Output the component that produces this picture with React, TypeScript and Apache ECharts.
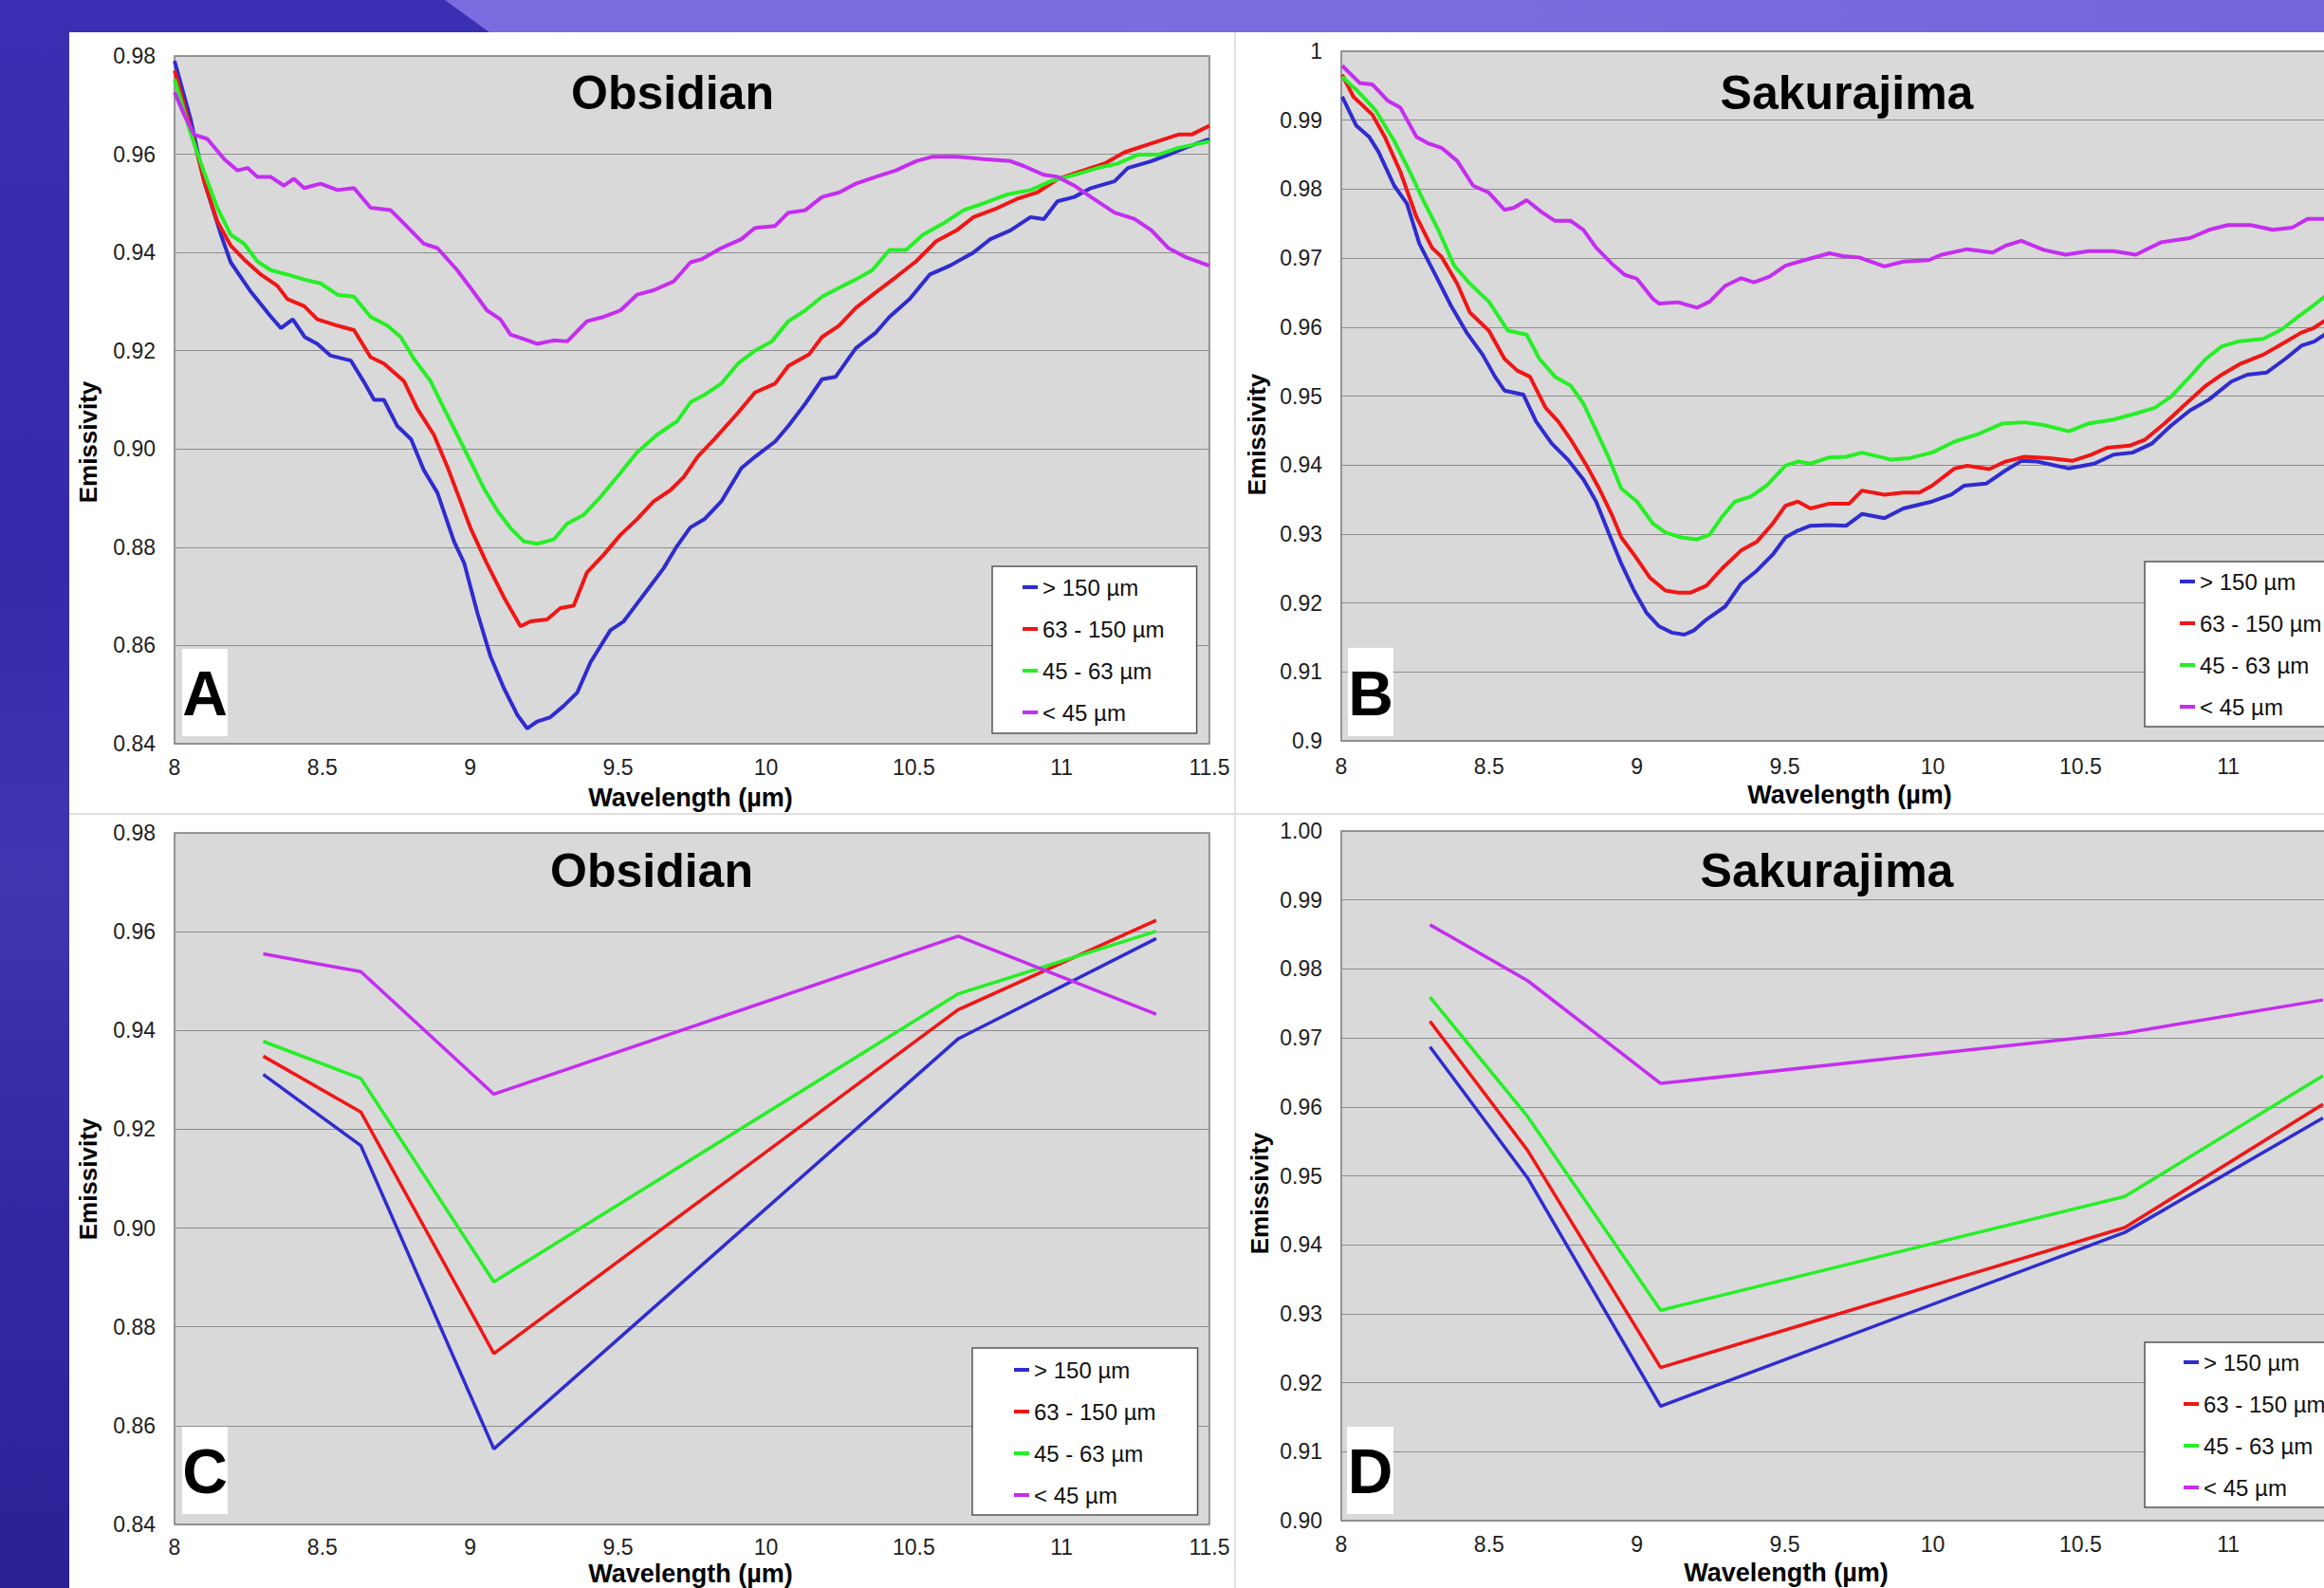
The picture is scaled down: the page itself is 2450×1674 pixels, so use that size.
import React, { useEffect, useRef } from "react";
import * as echarts from "echarts";

// ---------- DATA ----------
const SIZE_LABELS = ["> 150 µm", "63 - 150 µm", "45 - 63 µm", "< 45 µm"];
const SIZE_COLORS = ["#2f2ccf", "#f01616", "#26ef26", "#c42ef0"];
const PANEL_TITLES = ["Obsidian", "Sakurajima", "Obsidian", "Sakurajima"];
const PANEL_LETTERS = ["A", "B", "C", "D"];
const X_RANGE = { min: 8, max: 11.5, step: 0.5 };
const Y_RANGE_OBS = { min: 0.84, max: 0.98, step: 0.02 };
const Y_RANGE_SAK = { min: 0.9, max: 1.0, step: 0.01 };

// Panel A – Obsidian laboratory spectra
const obsA_gt150: [number, number][] = [
  [8.0, 0.979], [8.055, 0.967], [8.1, 0.9545], [8.157, 0.9436], [8.19, 0.938], [8.258, 0.932], [8.325, 0.927],
  [8.36, 0.9246], [8.4, 0.9264], [8.44, 0.9228], [8.483, 0.9214], [8.528, 0.919], [8.596, 0.918], [8.64, 0.9137],
  [8.675, 0.91], [8.708, 0.91], [8.753, 0.9047], [8.8, 0.902], [8.843, 0.8957], [8.889, 0.8911], [8.945, 0.8812],
  [8.98, 0.8767], [9.024, 0.8667], [9.069, 0.8577], [9.114, 0.8513], [9.159, 0.8459], [9.193, 0.8431], [9.226, 0.8445],
  [9.271, 0.8454], [9.316, 0.8477], [9.362, 0.8504], [9.407, 0.8566], [9.474, 0.8631], [9.519, 0.8649], [9.564, 0.8685],
  [9.609, 0.8721], [9.654, 0.8757], [9.699, 0.8802], [9.744, 0.884], [9.792, 0.8857], [9.849, 0.8893], [9.917, 0.8961],
  [9.963, 0.8984], [10.031, 0.9015], [10.076, 0.9047], [10.133, 0.9092], [10.19, 0.9142], [10.236, 0.9147],
  [10.304, 0.9205], [10.372, 0.9237], [10.418, 0.9269], [10.486, 0.9305], [10.554, 0.9355], [10.622, 0.9373],
  [10.702, 0.94], [10.759, 0.9427], [10.827, 0.9445], [10.895, 0.9472], [10.94, 0.9468], [10.986, 0.9504],
  [11.043, 0.9513], [11.099, 0.9531], [11.179, 0.9545], [11.224, 0.9572], [11.304, 0.9586], [11.361, 0.9599],
  [11.418, 0.9613], [11.5, 0.9631],
];
const obsA_63_150: [number, number][] = [
  [8.0, 0.977], [8.055, 0.9653], [8.1, 0.9545], [8.145, 0.9463], [8.19, 0.9414], [8.235, 0.9386], [8.292, 0.9355],
  [8.348, 0.9332], [8.382, 0.9305], [8.438, 0.9291], [8.483, 0.9264], [8.551, 0.9251], [8.607, 0.9242], [8.663, 0.9187],
  [8.708, 0.9174], [8.776, 0.9138], [8.821, 0.9082], [8.877, 0.9029], [8.922, 0.8965], [8.956, 0.8911], [9.001, 0.8839],
  [9.057, 0.8766], [9.114, 0.8698], [9.17, 0.8639], [9.204, 0.8649], [9.26, 0.8653], [9.305, 0.8676], [9.35, 0.8681],
  [9.395, 0.8749], [9.452, 0.8785], [9.508, 0.8825], [9.564, 0.8857], [9.62, 0.8893], [9.677, 0.8916], [9.722, 0.8943],
  [9.77, 0.8985], [9.826, 0.902], [9.906, 0.9074], [9.963, 0.9115], [10.031, 0.9133], [10.076, 0.9169], [10.145, 0.9192],
  [10.19, 0.9228], [10.247, 0.9251], [10.304, 0.9287], [10.372, 0.9319], [10.44, 0.935], [10.508, 0.9382],
  [10.576, 0.9423], [10.645, 0.9445], [10.702, 0.9472], [10.781, 0.949], [10.849, 0.9509], [10.917, 0.9522],
  [10.986, 0.9549], [11.054, 0.9563], [11.145, 0.9581], [11.213, 0.9604], [11.304, 0.9622], [11.395, 0.964],
  [11.44, 0.964], [11.5, 0.9658],
];
const obsA_45_63: [number, number][] = [
  [8.0, 0.9753], [8.055, 0.9642], [8.1, 0.9563], [8.145, 0.9491], [8.19, 0.9436], [8.235, 0.9418], [8.28, 0.9382],
  [8.325, 0.9364], [8.382, 0.9355], [8.438, 0.9345], [8.494, 0.9337], [8.551, 0.9314], [8.607, 0.931], [8.663, 0.9269],
  [8.72, 0.9251], [8.765, 0.9228], [8.81, 0.9183], [8.866, 0.9138], [8.911, 0.9083], [8.956, 0.9029], [9.001, 0.8975],
  [9.046, 0.892], [9.091, 0.8875], [9.136, 0.8839], [9.181, 0.8812], [9.226, 0.8807], [9.283, 0.8816], [9.328, 0.8848],
  [9.384, 0.8866], [9.44, 0.8902], [9.497, 0.8943], [9.564, 0.8993], [9.632, 0.9029], [9.699, 0.9056], [9.745, 0.9095],
  [9.792, 0.911], [9.849, 0.9133], [9.906, 0.9174], [9.963, 0.92], [10.02, 0.9219], [10.076, 0.926], [10.133, 0.9282],
  [10.19, 0.931], [10.247, 0.9328], [10.304, 0.9345], [10.36, 0.9364], [10.418, 0.9405], [10.474, 0.9405],
  [10.531, 0.9436], [10.6, 0.9459], [10.668, 0.9486], [10.736, 0.95], [10.815, 0.9518], [10.895, 0.9527],
  [10.963, 0.9545], [11.043, 0.9558], [11.122, 0.9572], [11.19, 0.9581], [11.258, 0.9599], [11.327, 0.9599],
  [11.395, 0.9613], [11.5, 0.9626],
];
const obsA_lt45: [number, number][] = [
  [8.0, 0.9726], [8.033, 0.968], [8.066, 0.964], [8.111, 0.9631], [8.168, 0.959], [8.213, 0.9567], [8.247, 0.9572],
  [8.28, 0.9554], [8.325, 0.9554], [8.37, 0.9536], [8.404, 0.955], [8.438, 0.9531], [8.494, 0.954], [8.551, 0.9527],
  [8.607, 0.9531], [8.663, 0.9491], [8.731, 0.9486], [8.776, 0.9459], [8.843, 0.9418], [8.889, 0.9409], [8.956, 0.9364],
  [9.001, 0.9328], [9.057, 0.9282], [9.102, 0.9264], [9.136, 0.9233], [9.181, 0.9224], [9.226, 0.9214], [9.283, 0.9221],
  [9.328, 0.9219], [9.395, 0.926], [9.452, 0.9269], [9.508, 0.9282], [9.564, 0.9314], [9.62, 0.9323], [9.688, 0.9341],
  [9.745, 0.938], [9.781, 0.9386], [9.849, 0.9409], [9.917, 0.9427], [9.963, 0.945], [10.031, 0.9454], [10.076, 0.9481],
  [10.133, 0.9486], [10.19, 0.9513], [10.247, 0.9522], [10.304, 0.954], [10.372, 0.9554], [10.44, 0.9567],
  [10.508, 0.9586], [10.565, 0.9595], [10.645, 0.9595], [10.736, 0.959], [10.827, 0.9586], [10.872, 0.9576],
  [10.94, 0.9558], [10.986, 0.9554], [11.043, 0.9536], [11.099, 0.9513], [11.179, 0.9481], [11.247, 0.9468],
  [11.304, 0.9445], [11.361, 0.9409], [11.418, 0.9391], [11.5, 0.9373],
];

// Panel B – Sakurajima laboratory spectra
const sakB_gt150: [number, number][] = [
  [8.003, 0.9934], [8.051, 0.9892], [8.094, 0.9876], [8.126, 0.9854], [8.179, 0.9805], [8.222, 0.9779], [8.264, 0.9721],
  [8.318, 0.9676], [8.371, 0.9631], [8.424, 0.9592], [8.478, 0.956], [8.52, 0.9528], [8.552, 0.9508], [8.616, 0.9502],
  [8.659, 0.9463], [8.712, 0.9431], [8.766, 0.9408], [8.819, 0.9379], [8.862, 0.9347], [8.904, 0.9302], [8.947, 0.9257],
  [8.99, 0.9218], [9.032, 0.9186], [9.075, 0.9166], [9.118, 0.9157], [9.16, 0.9154], [9.192, 0.916], [9.235, 0.9176],
  [9.299, 0.9195], [9.352, 0.9228], [9.406, 0.9247], [9.459, 0.927], [9.502, 0.9295], [9.544, 0.9305], [9.587, 0.9312],
  [9.651, 0.9313], [9.708, 0.9312], [9.761, 0.9329], [9.837, 0.9323], [9.901, 0.9337], [9.998, 0.9347], [10.063, 0.9357],
  [10.106, 0.937], [10.181, 0.9373], [10.246, 0.9392], [10.3, 0.9406], [10.353, 0.9405], [10.461, 0.9395],
  [10.547, 0.9402], [10.612, 0.9415], [10.676, 0.9418], [10.741, 0.9431], [10.806, 0.9457], [10.87, 0.9479],
  [10.935, 0.9495], [11.01, 0.9521], [11.064, 0.9531], [11.129, 0.9534], [11.193, 0.9554], [11.247, 0.9573],
  [11.29, 0.9579], [11.34, 0.9593],
];
const sakB_63_150: [number, number][] = [
  [8.003, 0.9966], [8.041, 0.9934], [8.105, 0.9908], [8.147, 0.9876], [8.2, 0.9825], [8.254, 0.976], [8.307, 0.9715],
  [8.339, 0.9702], [8.392, 0.9663], [8.435, 0.9621], [8.499, 0.9595], [8.552, 0.9554], [8.595, 0.9537], [8.638, 0.9528],
  [8.691, 0.9483], [8.734, 0.9463], [8.776, 0.9437], [8.83, 0.9399], [8.872, 0.9366], [8.915, 0.9328], [8.947, 0.9295],
  [8.99, 0.927], [9.043, 0.9237], [9.096, 0.9218], [9.139, 0.9215], [9.182, 0.9215], [9.235, 0.9225], [9.288, 0.925],
  [9.352, 0.9276], [9.406, 0.9289], [9.459, 0.9315], [9.502, 0.9341], [9.544, 0.9347], [9.587, 0.9337], [9.651, 0.9344],
  [9.718, 0.9344], [9.761, 0.9363], [9.837, 0.9357], [9.901, 0.936], [9.955, 0.936], [9.998, 0.937], [10.074, 0.9395],
  [10.117, 0.9399], [10.192, 0.9394], [10.246, 0.9405], [10.31, 0.9412], [10.396, 0.941], [10.472, 0.9406],
  [10.536, 0.9415], [10.59, 0.9425], [10.666, 0.9428], [10.719, 0.9437], [10.784, 0.946], [10.849, 0.9486],
  [10.924, 0.9515], [10.978, 0.9531], [11.042, 0.9547], [11.118, 0.956], [11.171, 0.9573], [11.247, 0.9592],
  [11.29, 0.9599], [11.34, 0.9613],
];
const sakB_45_63: [number, number][] = [
  [8.003, 0.9963], [8.051, 0.9944], [8.115, 0.9915], [8.179, 0.987], [8.232, 0.9825], [8.275, 0.9786], [8.328, 0.9741],
  [8.382, 0.9689], [8.435, 0.9663], [8.499, 0.9637], [8.563, 0.9595], [8.627, 0.9589], [8.67, 0.9554], [8.723, 0.9528],
  [8.776, 0.9515], [8.819, 0.9489], [8.862, 0.945], [8.904, 0.9411], [8.947, 0.9366], [9.0, 0.9347], [9.054, 0.9315],
  [9.096, 0.9302], [9.15, 0.9295], [9.203, 0.9292], [9.246, 0.9299], [9.288, 0.9325], [9.331, 0.9347], [9.384, 0.9354],
  [9.438, 0.937], [9.502, 0.9399], [9.544, 0.9405], [9.587, 0.9402], [9.651, 0.9411], [9.708, 0.9412], [9.761, 0.9418],
  [9.858, 0.9408], [9.923, 0.941], [9.998, 0.9418], [10.074, 0.9434], [10.149, 0.9444], [10.235, 0.946], [10.31, 0.9462],
  [10.375, 0.9458], [10.461, 0.9449], [10.526, 0.946], [10.612, 0.9466], [10.698, 0.9476], [10.752, 0.9483],
  [10.806, 0.9499], [10.87, 0.9528], [10.924, 0.9554], [10.978, 0.9572], [11.032, 0.9579], [11.118, 0.9583],
  [11.182, 0.9597], [11.236, 0.9615], [11.29, 0.9632], [11.34, 0.9649],
];
const sakB_lt45: [number, number][] = [
  [8.003, 0.9979], [8.062, 0.9954], [8.105, 0.9952], [8.158, 0.9928], [8.2, 0.9918], [8.254, 0.9876], [8.296, 0.9866],
  [8.339, 0.986], [8.392, 0.9841], [8.446, 0.9805], [8.499, 0.9795], [8.552, 0.977], [8.584, 0.9773], [8.627, 0.9784],
  [8.68, 0.9766], [8.723, 0.9754], [8.776, 0.9754], [8.819, 0.9741], [8.862, 0.9715], [8.915, 0.9692], [8.958, 0.9676],
  [9.0, 0.967], [9.054, 0.9641], [9.075, 0.9634], [9.139, 0.9636], [9.203, 0.9628], [9.246, 0.9637], [9.299, 0.966],
  [9.352, 0.9671], [9.395, 0.9665], [9.448, 0.9673], [9.502, 0.9689], [9.566, 0.9697], [9.651, 0.9707], [9.697, 0.9703],
  [9.751, 0.9701], [9.837, 0.9688], [9.901, 0.9695], [9.987, 0.9697], [10.031, 0.9705], [10.117, 0.9713],
  [10.203, 0.9708], [10.246, 0.9718], [10.3, 0.9725], [10.375, 0.9712], [10.45, 0.9705], [10.526, 0.971],
  [10.612, 0.971], [10.687, 0.9705], [10.773, 0.9723], [10.87, 0.9729], [10.935, 0.9741], [10.999, 0.9748],
  [11.075, 0.9748], [11.15, 0.9741], [11.215, 0.9744], [11.268, 0.9757], [11.34, 0.9757],
];

// Panels C & D – convolved to the five ASTER TIR band centres
const bandCentres = [8.3, 8.63, 9.08, 10.65, 11.32];
const obsC_gt150 = [0.9311, 0.9167, 0.8553, 0.9383, 0.9586];
const obsC_63_150 = [0.9348, 0.9235, 0.8746, 0.9442, 0.9623];
const obsC_45_63 = [0.9378, 0.9303, 0.8891, 0.9474, 0.9601];
const obsC_lt45 = [0.9555, 0.9519, 0.9271, 0.9591, 0.9433];
const sakD_gt150 = [0.9687, 0.9497, 0.9166, 0.9418, 0.9584];
const sakD_63_150 = [0.9724, 0.9537, 0.9222, 0.9425, 0.9604];
const sakD_45_63 = [0.9759, 0.9586, 0.9305, 0.947, 0.9645];
const sakD_lt45 = [0.9864, 0.9783, 0.9634, 0.9707, 0.9755];

// ---------- LAYOUT / STYLE ----------
const FONT = '"Liberation Sans", Arial, Helvetica, sans-serif';
const W = 2450;
const H = 1674;
const CHART_W = 2620; // wider than the page: the right-hand panels run past the edge, as in the slide

const PANELS = [
  {
    grid: { left: 184, top: 59, width: 1091, height: 725 }, y: Y_RANGE_OBS, yFmt: (v: number) => v.toFixed(2),
    xMargin: 13, lineW: 4, showMax: true, title: [709, 98], letterBox: [192, 684, 48, 92], yName: [93, 466], xName: [728, 841],
    legend: { left: 1046, top: 597, padding: [10, 34, 10, 32] },
  },
  {
    grid: { left: 1414, top: 54, width: 1091, height: 727 }, y: Y_RANGE_SAK, yFmt: (v: number) => String(parseFloat(v.toFixed(2))),
    xMargin: 15, lineW: 4, showMax: false, title: [1947, 98], letterBox: [1421, 683, 48, 93], yName: [1325, 458], xName: [1950, 838],
    legend: { left: 2261, top: 592, padding: [9, 34, 9, 37] },
  },
  {
    grid: { left: 184, top: 878, width: 1091, height: 729 }, y: Y_RANGE_OBS, yFmt: (v: number) => v.toFixed(2),
    xMargin: 12, lineW: 3.5, showMax: true, title: [687, 918], letterBox: [192, 1504, 48, 92], yName: [93, 1243], xName: [728, 1659],
    legend: { left: 1025, top: 1421, padding: [11, 44, 9, 44] },
  },
  {
    grid: { left: 1414, top: 876, width: 1091, height: 727 }, y: Y_RANGE_SAK, yFmt: (v: number) => v.toFixed(2),
    xMargin: 13, lineW: 3.5, showMax: false, title: [1926, 918], letterBox: [1420, 1504, 49, 92], yName: [1328, 1258], xName: [1883, 1658],
    legend: { left: 2261, top: 1415, padding: [9, 34, 9, 41] },
  },
];

const panelData: [number, number][][][] = [
  [obsA_gt150, obsA_63_150, obsA_45_63, obsA_lt45],
  [sakB_gt150, sakB_63_150, sakB_45_63, sakB_lt45],
  [obsC_gt150, obsC_63_150, obsC_45_63, obsC_lt45].map((vals) => bandCentres.map((x, i) => [x, vals[i]] as [number, number])),
  [sakD_gt150, sakD_63_150, sakD_45_63, sakD_lt45].map((vals) => bandCentres.map((x, i) => [x, vals[i]] as [number, number])),
];

function buildOption() {
  const grid: any[] = [];
  const xAxis: any[] = [];
  const yAxis: any[] = [];
  const series: any[] = [];
  const legend: any[] = [];
  const graphic: any[] = [];

  PANELS.forEach((p, i) => {
    grid.push({ ...p.grid, show: true, backgroundColor: "#d9d9d9", borderColor: "#7a7a7a", borderWidth: 1.5 });
    xAxis.push({
      type: "value", gridIndex: i, min: X_RANGE.min, max: X_RANGE.max, interval: X_RANGE.step,
      axisLine: { show: false }, axisTick: { show: false }, splitLine: { show: false },
      axisLabel: {
        fontSize: 23, color: "#1e1e1e", fontFamily: FONT, margin: p.xMargin, showMaxLabel: p.showMax,
        formatter: (v: number) => String(parseFloat(v.toFixed(1))),
      },
    });
    yAxis.push({
      type: "value", gridIndex: i, min: p.y.min, max: p.y.max, interval: p.y.step,
      axisLine: { show: false }, axisTick: { show: false },
      splitLine: { show: true, lineStyle: { color: "#8e8e8e", width: 1.2 } },
      axisLabel: { fontSize: 23, color: "#1e1e1e", fontFamily: FONT, margin: 20, formatter: p.yFmt },
    });
    panelData[i].forEach((data, k) => {
      series.push({
        type: "line", name: SIZE_LABELS[k], xAxisIndex: i, yAxisIndex: i, data,
        symbol: "none", showSymbol: false, color: SIZE_COLORS[k],
        lineStyle: { color: SIZE_COLORS[k], width: p.lineW }, z: 3,
      });
    });
    legend.push({
      orient: "vertical", left: p.legend.left, top: p.legend.top, padding: p.legend.padding,
      itemGap: 20, itemWidth: 16, itemHeight: 4, icon: "rect",
      backgroundColor: "#ffffff", borderColor: "#555555", borderWidth: 1.5, borderRadius: 0,
      textStyle: { fontSize: 24, color: "#111111", fontFamily: FONT },
      data: SIZE_LABELS, selectedMode: false,
    });
    graphic.push({
      type: "text", x: p.title[0], y: p.title[1], z: 50,
      style: {
        text: PANEL_TITLES[i], font: `bold 50px ${FONT}`, fill: "#000",
        align: "center", verticalAlign: "middle", textAlign: "center", textVerticalAlign: "middle",
      },
    });
    const [bx, by, bw, bh] = p.letterBox;
    graphic.push({ type: "rect", shape: { x: bx, y: by, width: bw, height: bh }, style: { fill: "#ffffff" }, z: 40 });
    graphic.push({
      type: "text", x: bx + bw / 2, y: by + bh / 2 + 1, z: 50,
      style: {
        text: PANEL_LETTERS[i], font: `bold 66px ${FONT}`, fill: "#000",
        align: "center", verticalAlign: "middle", textAlign: "center", textVerticalAlign: "middle",
      },
    });
    graphic.push({
      type: "text", x: p.yName[0], y: p.yName[1], rotation: Math.PI / 2, z: 50,
      style: {
        text: "Emissivity", font: `bold 26px ${FONT}`, fill: "#000",
        align: "center", verticalAlign: "middle", textAlign: "center", textVerticalAlign: "middle",
      },
    });
    graphic.push({
      type: "text", x: p.xName[0], y: p.xName[1], z: 50,
      style: {
        text: "Wavelength (µm)", font: `bold 27px ${FONT}`, fill: "#000",
        align: "center", verticalAlign: "middle", textAlign: "center", textVerticalAlign: "middle",
      },
    });
  });

  return { animation: false, grid, xAxis, yAxis, series, legend, graphic, tooltip: { show: false } };
}

function EmissivityPanels() {
  const ref = useRef<HTMLDivElement>(null);
  useEffect(() => {
    if (!ref.current) return;
    const chart = echarts.init(ref.current, null, { renderer: "svg", width: CHART_W, height: H });
    chart.setOption(buildOption() as any);
    return () => chart.dispose();
  }, []);
  return <div ref={ref} style={{ position: "absolute", left: 0, top: 0, width: CHART_W, height: H }} />;
}

export default function App() {
  return (
    <div
      style={{
        position: "fixed", left: 0, top: 0, width: W, height: H, overflow: "hidden",
        background: "linear-gradient(180deg, #3b2fb3 0%, #3629a9 35%, #3f36b0 55%, #3328a2 75%, #2b2196 100%)",
      }}
    >
      <div
        style={{
          position: "absolute", left: 0, top: 0, width: W, height: 34,
          background: "linear-gradient(90deg, #7a6be0 0%, #7b6ddf 50%, #7565dd 100%)",
          clipPath: "polygon(469px 0, 2450px 0, 2450px 34px, 516px 34px)",
        }}
      />
      <div style={{ position: "absolute", left: 73, top: 34, width: W - 73, height: H - 34, background: "#ffffff" }} />
      <div style={{ position: "absolute", left: 1301, top: 34, width: 2, height: H - 34, background: "#e2e2e2" }} />
      <div style={{ position: "absolute", left: 73, top: 857, width: W - 73, height: 2, background: "#e0e0e0" }} />
      <EmissivityPanels />
    </div>
  );
}
